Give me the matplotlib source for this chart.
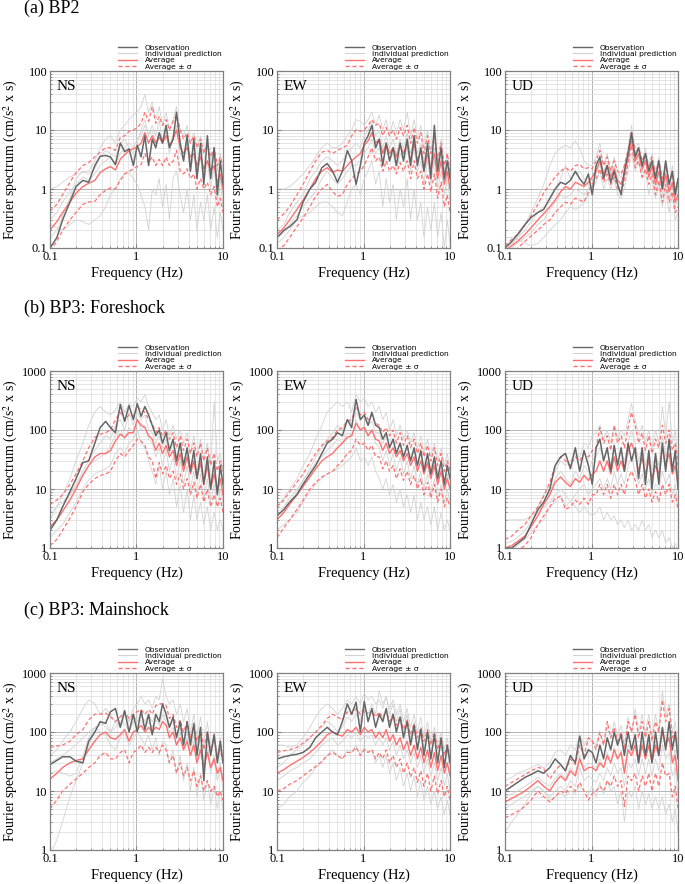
import matplotlib
matplotlib.use('Agg')
import matplotlib.pyplot as plt
from matplotlib.lines import Line2D
from matplotlib.ticker import NullFormatter, LogLocator

plt.rcParams['font.family'] = ['Liberation Serif', 'DejaVu Serif']
plt.rcParams['mathtext.fontset'] = 'stix'

# frequency samples (Hz), shared by every curve
freq = [0.10, 0.12, 0.14, 0.17, 0.20, 0.24, 0.28, 0.33, 0.38, 0.44, 0.50, 0.57, 0.65, 0.73,
        0.82, 0.92, 1.02, 1.13, 1.25, 1.38, 1.52, 1.67, 1.83, 2.0, 2.2, 2.4, 2.65, 2.9,
        3.2, 3.5, 3.85, 4.2, 4.6, 5.0, 5.5, 6.0, 6.6, 7.2, 7.9, 8.6, 9.3, 10.0]

# ---- (a) BP2 ----
bp2_ns_obs = [0.1, 0.15, 0.3, 0.6, 1.1, 1.4, 1.3, 2.5, 3.6, 3.7, 3.5, 2.6, 6, 4.3,
              4.8, 2.5, 5.5, 3.5, 8, 2.5, 7, 5, 9, 6, 12, 5, 7, 20,
              6, 3, 8, 2, 7, 1.5, 6, 1.2, 8, 1.5, 5, 0.8, 3, 1.2]
bp2_ns_avg = [0.2, 0.28, 0.4, 0.6, 0.85, 1.1, 1.25, 1.4, 1.9, 2.2, 2.4, 2.1, 3.2, 3.8,
              4.5, 4.8, 5.2, 6, 9, 6, 8, 6, 7.5, 6, 8, 5.5, 7, 10,
              5, 4, 5, 3.5, 4, 2.5, 3.5, 2.2, 3, 2, 2.5, 1.3, 1.8, 1.0]
bp2_ns_hi = [0.42, 0.55, 0.8, 1.3, 1.9, 2.5, 2.8, 3.5, 4.2, 5.0, 5.0, 4.5, 7.5, 8,
             9.5, 10, 11, 13, 20, 14, 25, 13, 17, 12, 15, 10, 14, 18,
             10, 7, 9, 6, 8, 5, 7, 4, 6, 3.5, 5, 2.5, 3.5, 2.5]
bp2_ns_lo = [0.09, 0.13, 0.2, 0.3, 0.4, 0.55, 0.6, 0.62, 0.8, 0.95, 1.05, 1.0, 1.4, 1.8,
             2.0, 2.2, 2.4, 2.6, 4, 2.8, 3.5, 2.5, 3.2, 2.5, 3.5, 2.5, 3, 4.5,
             2, 1.8, 2.2, 1.5, 1.8, 1.0, 1.5, 1.0, 1.3, 0.8, 1.1, 0.5, 0.7, 0.4]
bp2_ns_ind = [
    [1.0, 1.1, 1.3, 1.6, 1.8, 1.9, 2.0, 3, 5, 7, 8, 6, 10, 12,
     15, 18, 20, 25, 40, 20, 30, 15, 25, 12, 20, 10, 15, 25,
     10, 8, 12, 6, 9, 5, 8, 4, 7, 3, 5, 2, 4, 2],
    [0.25, 0.22, 0.2, 0.25, 0.3, 0.28, 0.25, 0.3, 0.35, 0.5, 0.8, 1.0, 1.5, 1.8,
     1.9, 1.5, 1.2, 0.8, 0.5, 0.2, 1.0, 0.8, 1.5, 0.5, 1.2, 0.3, 1.5, 2,
     0.8, 0.4, 1.0, 0.3, 0.8, 0.2, 0.6, 0.3, 0.8, 0.2, 0.5, 0.15, 0.4, 0.2],
    [0.3, 0.4, 0.6, 0.9, 1.2, 1.6, 1.4, 1.8, 2.5, 3, 3.5, 2.5, 4, 5,
     6, 5, 7, 8, 12, 8, 10, 6, 9, 7, 10, 5, 8, 12,
     4, 3, 6, 2, 4, 1.5, 3.5, 1.2, 3, 1, 2.5, 0.6, 1.5, 0.5],
    [0.15, 0.2, 0.35, 0.7, 1.5, 2.0, 1.8, 2.2, 3.5, 4.5, 4, 3.5, 6, 7,
     5, 4, 6, 10, 15, 8, 12, 8, 15, 6, 9, 4, 8, 10,
     5, 4, 7, 3, 5, 2, 4, 2, 3, 1.5, 2, 1, 1.5, 0.8],
]

bp2_ew_obs = [0.15, 0.2, 0.23, 0.3, 0.6, 1.0, 1.3, 2.3, 2.7, 2.0, 1.3, 2.0, 4.5, 3.0,
              1.2, 2.5, 6, 8, 12, 5, 7, 2.5, 6, 3, 5, 2.5, 6, 3,
              7, 2.5, 8, 2.5, 5, 2, 6, 1.5, 12, 2, 5, 1.5, 3, 1.5]
bp2_ew_avg = [0.17, 0.22, 0.3, 0.45, 0.65, 1.0, 1.5, 2.0, 2.3, 1.9, 2.1, 2.0, 2.5, 3.0,
              3.5, 4.0, 5.5, 6.5, 9, 6, 7, 4, 6, 4, 5, 3.5, 5.5, 4,
              6, 3, 6, 3, 4.5, 2, 4, 2, 4, 1.5, 3, 1.2, 2, 1.0]
bp2_ew_hi = [0.3, 0.38, 0.5, 0.8, 1.2, 2.0, 3.0, 4.2, 4.5, 4.0, 4.5, 5.0, 5.5, 8.0,
             10, 9.5, 10, 12, 15, 12, 13, 8, 11, 8, 10, 7, 11, 8,
             12, 6, 11, 6, 9, 4, 8, 4, 8, 3, 6, 2.5, 4, 2]
bp2_ew_lo = [0.09, 0.11, 0.15, 0.23, 0.32, 0.5, 0.75, 1.0, 1.2, 0.9, 0.75, 0.8, 1.2, 1.5,
             1.8, 2.0, 2.5, 3.5, 5, 3.0, 3.5, 2.0, 3.0, 2.0, 2.5, 1.8, 2.8, 2.0,
             3.0, 1.5, 3.0, 1.5, 2.0, 1.0, 1.8, 0.9, 1.8, 0.7, 1.3, 0.5, 0.8, 0.4]
bp2_ew_ind = [
    [1.0, 1.0, 1.1, 1.4, 1.8, 2.5, 3.5, 5, 6, 5, 5, 6, 8, 10,
     15, 14, 12, 15, 20, 12, 18, 10, 15, 8, 14, 9, 15, 10,
     20, 8, 15, 7, 12, 5, 10, 4, 9, 3, 7, 2, 4, 2],
    [0.12, 0.15, 0.2, 0.3, 0.35, 0.4, 0.5, 0.6, 0.6, 0.5, 0.4, 0.35, 0.6, 1.0,
     1.2, 0.8, 1.5, 2.0, 3, 1.2, 2, 0.5, 1.5, 0.6, 1.2, 0.3, 1.0, 0.5,
     1.5, 0.3, 1.0, 0.3, 0.6, 0.15, 0.5, 0.2, 0.6, 0.15, 0.4, 0.1, 0.3, 0.12],
    [0.2, 0.25, 0.4, 0.6, 0.8, 1.5, 2.0, 3.0, 3.5, 3.0, 2.5, 3.0, 4.0, 5.0,
     6.0, 5.0, 8.0, 10, 14, 8, 10, 5, 8, 5, 7, 4, 7, 5,
     9, 4, 8, 4, 6, 3, 5, 2.5, 5, 2, 4, 1.5, 2.5, 1.2],
    [0.15, 0.18, 0.25, 0.35, 0.5, 0.7, 0.9, 1.5, 2.0, 1.5, 1.2, 1.5, 2.0, 2.5,
     2.5, 3.0, 4.0, 5.0, 7, 4, 5, 3, 5, 3, 4, 2, 4, 3,
     5, 2, 5, 2, 3, 1.2, 3, 1.2, 3, 1, 2, 0.8, 1.5, 0.6],
]

bp2_ud_obs = [0.1, 0.13, 0.17, 0.25, 0.33, 0.4, 0.45, 0.7, 1.0, 1.3, 1.2, 1.4, 2.0, 1.5,
              1.2, 1.8, 0.8, 2.5, 3.5, 1.5, 2.5, 1.3, 2.0, 1.2, 0.8, 2.0, 4, 9,
              3.5, 5, 2.5, 4, 2, 3, 1.5, 3, 1.0, 3, 1.2, 2.0, 0.8, 1.5]
bp2_ud_avg = [0.09, 0.11, 0.13, 0.17, 0.22, 0.3, 0.38, 0.5, 0.65, 0.9, 1.1, 1.0, 1.3, 1.2,
              1.1, 1.3, 1.6, 2.0, 3.0, 1.8, 2.5, 1.6, 2.2, 1.4, 1.2, 1.8, 3.5, 7,
              3.0, 4.0, 2.2, 3.0, 1.6, 2.5, 1.2, 2.0, 1.0, 1.8, 0.9, 1.3, 0.6, 0.8]
bp2_ud_hi = [0.11, 0.14, 0.17, 0.24, 0.35, 0.55, 0.85, 1.2, 1.6, 2.0, 2.3, 2.0, 2.5, 2.6,
             2.2, 2.3, 2.2, 3.0, 4.5, 2.5, 3.5, 2.0, 3.0, 2.0, 1.8, 2.5, 4.5, 9.5,
             4.0, 5.0, 3.0, 4.0, 2.2, 3.5, 1.8, 3.0, 1.5, 2.5, 1.3, 1.8, 0.9, 1.2]
bp2_ud_lo = [0.07, 0.08, 0.1, 0.13, 0.16, 0.2, 0.25, 0.3, 0.4, 0.5, 0.6, 0.55, 0.7, 0.65,
             0.6, 0.9, 1.2, 1.5, 2.2, 1.3, 1.8, 1.2, 1.6, 1.0, 0.9, 1.3, 2.8, 5.5,
             2.3, 3.0, 1.6, 2.2, 1.2, 1.8, 0.8, 1.4, 0.6, 1.2, 0.6, 0.9, 0.4, 0.5]
bp2_ud_ind = [
    [0.1, 0.12, 0.15, 0.25, 0.4, 0.7, 1.2, 2.5, 4, 5, 5.5, 5, 6.5, 5,
     3, 2.5, 2.5, 3.5, 6, 2.5, 4, 2, 3.5, 2, 1.5, 2.5, 5, 12,
     5, 6, 3, 5, 2.5, 4, 2, 3.5, 1.5, 3, 1.2, 2.5, 1, 1.5],
    [0.15, 0.15, 0.14, 0.12, 0.11, 0.12, 0.15, 0.2, 0.25, 0.3, 0.4, 0.5, 0.45, 0.5,
     0.6, 0.8, 1.0, 1.3, 2, 1.0, 1.5, 1.0, 1.5, 0.8, 0.7, 1.0, 2, 4,
     2, 3, 1.5, 2, 0.8, 1.5, 0.7, 1.2, 0.5, 1.0, 0.4, 0.8, 0.3, 0.4],
    [0.1, 0.12, 0.15, 0.2, 0.28, 0.4, 0.5, 0.6, 1.0, 1.5, 2.5, 1.5, 1.8, 2.0,
     1.5, 1.2, 1.5, 2.5, 3.5, 2, 3, 1.8, 2.5, 1.5, 1.2, 2.0, 4, 7,
     3, 4, 2, 3.5, 1.8, 3, 1.5, 2.5, 1.2, 2.5, 1.0, 1.8, 0.7, 1.0],
    [0.09, 0.1, 0.12, 0.15, 0.18, 0.25, 0.3, 0.45, 0.6, 0.8, 0.7, 0.8, 1.0, 0.9,
     0.8, 1.0, 1.3, 1.8, 2.5, 1.5, 2.0, 1.3, 2.0, 1.2, 1.0, 1.5, 3, 6,
     2.5, 3.5, 2, 3, 1.5, 2.2, 1.0, 1.8, 0.8, 1.5, 0.7, 1.2, 0.5, 0.7],
]

# ---- (b) BP3: Foreshock ----
fs_ns_obs = [2, 3, 5, 9, 15, 28, 30, 60, 110, 140, 110, 90, 270, 140,
             260, 150, 280, 170, 250, 180, 120, 80, 100, 60, 90, 45, 70, 30,
             60, 25, 50, 20, 45, 15, 40, 12, 35, 10, 30, 8, 25, 12]
fs_ns_avg = [2.3, 3, 4.2, 6.5, 10, 17, 25, 35, 40, 40, 45, 65, 85, 75,
             90, 90, 150, 120, 110, 80, 70, 45, 60, 40, 55, 35, 45, 25,
             40, 20, 35, 18, 30, 15, 28, 12, 25, 10, 18, 9, 15, 8]
fs_ns_hi = [5.5, 6.5, 8, 12, 18, 30, 50, 75, 85, 90, 100, 150, 200, 150,
            180, 170, 250, 220, 200, 150, 130, 90, 110, 80, 100, 70, 90, 50,
            80, 45, 70, 40, 60, 35, 60, 30, 50, 25, 40, 20, 30, 20]
fs_ns_lo = [1.1, 1.4, 2.0, 3.2, 5, 9, 12, 15, 17, 18, 20, 30, 40, 35,
            45, 55, 70, 65, 55, 35, 30, 15, 28, 18, 25, 15, 20, 12,
            18, 10, 15, 8, 13, 7, 12, 6, 10, 5, 8, 5, 7, 4]
fs_ns_ind = [
    [3, 5, 8, 15, 30, 60, 120, 200, 250, 200, 180, 220, 300, 200,
     280, 250, 350, 300, 400, 250, 200, 150, 180, 100, 150, 80, 120, 70,
     100, 60, 90, 40, 80, 35, 70, 30, 60, 25, 300, 30, 40, 20],
    [1.5, 2, 2.5, 4, 6, 10, 14, 18, 20, 22, 25, 40, 50, 40,
     60, 70, 100, 60, 50, 30, 20, 12, 25, 10, 20, 8, 15, 5,
     12, 4, 10, 3, 8, 3, 6, 2.5, 5, 2, 4, 2, 3, 2],
    [2, 3, 5, 8, 12, 20, 30, 45, 60, 80, 70, 120, 150, 100,
     200, 120, 200, 150, 180, 100, 90, 60, 80, 50, 70, 40, 60, 30,
     50, 25, 45, 20, 40, 15, 35, 12, 30, 10, 25, 8, 20, 10],
    [4, 5, 6, 8, 11, 18, 25, 30, 35, 40, 55, 80, 100, 70,
     110, 90, 150, 100, 120, 70, 60, 35, 50, 25, 45, 20, 35, 15,
     30, 12, 25, 10, 20, 8, 18, 7, 15, 6, 12, 5, 10, 6],
]

fs_ew_obs = [3.5, 4.5, 6, 8, 12, 18, 25, 40, 60, 70, 90, 80, 150, 110,
             330, 150, 180, 120, 200, 120, 110, 70, 90, 50, 70, 40, 60, 35,
             55, 30, 50, 25, 45, 20, 40, 18, 35, 15, 30, 12, 25, 15]
fs_ew_avg = [3, 4, 5.5, 8, 11, 16, 22, 30, 35, 40, 50, 60, 75, 80,
             130, 100, 110, 80, 100, 70, 65, 45, 60, 40, 50, 35, 45, 30,
             40, 25, 35, 20, 30, 18, 28, 15, 25, 12, 20, 10, 15, 10]
fs_ew_hi = [5, 6.5, 9, 13, 18, 28, 40, 55, 65, 75, 100, 110, 140, 150,
            250, 180, 200, 150, 180, 130, 120, 90, 110, 80, 100, 60, 90, 55,
            80, 50, 70, 40, 60, 35, 55, 30, 50, 25, 40, 20, 30, 20]
fs_ew_lo = [1.5, 2.2, 3, 4.5, 6.5, 10, 13, 16, 18, 20, 25, 30, 40, 45,
            70, 55, 60, 45, 55, 35, 35, 22, 30, 20, 25, 15, 22, 14,
            20, 12, 17, 10, 15, 8, 13, 7, 12, 6, 10, 5, 7, 5]
fs_ew_ind = [
    [5, 7, 10, 15, 25, 40, 70, 120, 200, 250, 300, 250, 300, 200,
     400, 300, 350, 250, 300, 200, 250, 150, 200, 100, 150, 80, 120, 70,
     100, 60, 90, 50, 80, 40, 70, 35, 60, 30, 50, 25, 40, 20],
    [2, 2.5, 3, 4, 6, 9, 12, 15, 18, 20, 22, 25, 30, 35,
     50, 30, 35, 25, 35, 20, 15, 10, 15, 8, 12, 6, 10, 5,
     8, 4, 8, 3, 6, 3, 5, 2.5, 5, 2, 4, 2, 3, 2],
    [3, 4, 6, 9, 14, 22, 35, 50, 70, 90, 120, 100, 150, 130,
     200, 150, 160, 120, 140, 90, 90, 60, 80, 50, 70, 40, 60, 35,
     50, 30, 45, 25, 40, 20, 35, 15, 30, 12, 25, 10, 18, 10],
    [4, 5, 7, 10, 14, 20, 28, 35, 45, 55, 70, 60, 90, 80,
     150, 100, 120, 80, 100, 60, 50, 30, 45, 25, 40, 20, 35, 18,
     30, 15, 25, 12, 20, 10, 18, 8, 15, 7, 12, 6, 10, 6],
]

fs_ud_obs = [1.0, 1.0, 1.2, 1.5, 2.5, 4.5, 6, 10, 25, 35, 40, 22, 50, 20,
             45, 25, 12, 50, 70, 30, 50, 20, 55, 25, 50, 20, 60, 30,
             50, 15, 50, 12, 45, 10, 40, 12, 60, 20, 70, 20, 45, 10]
fs_ud_avg = [1.0, 1.1, 1.3, 1.6, 2.3, 3.5, 5.5, 8, 13, 16, 13, 11, 15, 13,
             17, 14, 18, 20, 30, 20, 30, 18, 35, 20, 30, 20, 45, 60,
             40, 20, 35, 18, 30, 15, 25, 18, 50, 25, 40, 18, 25, 12]
fs_ud_hi = [1.4, 1.6, 2.0, 2.5, 3.5, 5, 7.5, 13, 25, 35, 30, 25, 35, 30,
            40, 35, 45, 50, 110, 60, 80, 45, 120, 60, 80, 50, 110, 200,
            120, 60, 90, 45, 80, 40, 70, 50, 120, 60, 100, 45, 60, 25]
fs_ud_lo = [0.7, 0.8, 0.9, 1.1, 1.5, 2.5, 3.5, 5, 7, 7.5, 4.5, 5, 6.5, 5.5,
            7, 5.5, 8, 8, 12, 8, 12, 7, 12, 8, 12, 8, 15, 20,
            14, 8, 12, 7, 10, 6, 9, 6, 12, 8, 12, 6, 8, 4.5]
fs_ud_ind = [
    [3, 3, 3, 3, 3.5, 4, 5, 6, 8, 10, 8, 6, 5, 4,
     5, 4, 3.5, 4, 5, 3, 4, 3, 3.5, 2.5, 3, 2.2, 3, 2,
     2.5, 2, 3, 2, 2.5, 1.5, 2, 1.5, 2, 1.2, 1.5, 1.0, 1.2, 0.9],
    [1, 1, 1.1, 1.5, 2.5, 5, 8, 12, 20, 30, 25, 30, 40, 35,
     60, 50, 80, 90, 120, 70, 100, 60, 120, 70, 100, 80, 150, 280,
     150, 80, 120, 60, 100, 50, 100, 60, 250, 80, 300, 60, 100, 30],
    [1.2, 1.3, 1.5, 2, 2.8, 4, 6, 9, 15, 20, 15, 12, 20, 15,
     25, 20, 30, 35, 50, 30, 45, 25, 50, 30, 45, 30, 60, 100,
     60, 30, 50, 25, 45, 20, 40, 25, 80, 35, 60, 25, 40, 15],
    [0.9, 1.0, 1.2, 1.4, 1.8, 2.5, 3, 5, 6, 8, 5, 6, 8, 10,
     12, 8, 10, 12, 15, 10, 15, 10, 20, 12, 18, 12, 25, 35,
     20, 12, 18, 10, 15, 8, 12, 10, 20, 12, 18, 8, 12, 6],
]

# ---- (c) BP3: Mainshock ----
ms_ns_obs = [28, 33, 38, 38, 32, 30, 70, 100, 150, 140, 220, 250, 120, 230,
             100, 200, 100, 230, 110, 200, 90, 200, 150, 300, 200, 120, 180, 80,
             150, 60, 150, 60, 140, 40, 120, 15, 100, 40, 90, 30, 70, 30]
ms_ns_avg = [16, 20, 25, 30, 33, 35, 50, 70, 90, 100, 80, 75, 90, 110,
             70, 100, 110, 130, 100, 120, 100, 120, 110, 150, 130, 80, 100, 60,
             80, 50, 70, 40, 60, 30, 50, 25, 45, 25, 35, 20, 25, 15]
ms_ns_hi = [55, 58, 60, 70, 90, 110, 160, 200, 200, 210, 180, 150, 180, 220,
            170, 200, 220, 240, 200, 240, 200, 280, 300, 300, 280, 170, 200, 120,
            160, 100, 150, 80, 130, 70, 110, 50, 100, 50, 70, 40, 50, 30]
ms_ns_lo = [5, 7, 10, 13, 16, 20, 25, 30, 40, 45, 35, 35, 45, 50,
            30, 45, 50, 60, 45, 55, 45, 55, 45, 60, 50, 30, 40, 20,
            30, 18, 25, 15, 22, 12, 18, 10, 15, 10, 12, 8, 10, 7]
ms_ns_ind = [
    [0.8, 1.5, 3, 8, 15, 30, 60, 100, 150, 120, 100, 150, 120, 200,
     150, 250, 300, 400, 300, 350, 250, 400, 350, 800, 400, 300, 350, 200,
     300, 150, 250, 100, 200, 80, 180, 60, 150, 50, 100, 40, 80, 30],
    [40, 50, 70, 100, 150, 250, 350, 300, 200, 250, 200, 150, 180, 200,
     150, 200, 150, 200, 150, 200, 150, 200, 150, 200, 180, 120, 150, 80,
     120, 60, 100, 50, 90, 40, 80, 30, 60, 25, 40, 20, 30, 15],
    [20, 22, 20, 18, 20, 40, 80, 120, 100, 90, 60, 50, 80, 100,
     60, 80, 100, 80, 60, 90, 50, 80, 40, 70, 60, 30, 50, 20,
     40, 15, 30, 10, 25, 8, 20, 7, 15, 6, 12, 5, 10, 5],
    [30, 35, 40, 50, 60, 80, 100, 120, 130, 150, 100, 120, 150, 140,
     100, 150, 180, 150, 120, 150, 120, 160, 130, 200, 150, 100, 120, 60,
     100, 50, 80, 40, 70, 30, 60, 25, 50, 20, 35, 15, 25, 10],
]

ms_ew_obs = [35, 38, 40, 42, 45, 55, 80, 100, 120, 100, 90, 150, 300, 200,
             320, 100, 330, 150, 250, 120, 200, 150, 250, 120, 200, 100, 180, 80,
             150, 60, 130, 50, 110, 40, 100, 35, 90, 30, 80, 25, 60, 30]
ms_ew_avg = [20, 23, 27, 32, 37, 45, 55, 70, 90, 100, 90, 85, 110, 100,
             120, 90, 120, 100, 110, 80, 100, 80, 110, 70, 90, 60, 80, 50,
             70, 40, 60, 35, 55, 30, 50, 25, 45, 22, 40, 20, 30, 18]
ms_ew_hi = [45, 48, 50, 55, 65, 80, 100, 130, 170, 200, 180, 160, 220, 200,
            250, 200, 250, 200, 230, 180, 220, 170, 230, 150, 200, 130, 180, 110,
            160, 90, 140, 80, 120, 70, 110, 60, 100, 50, 80, 40, 60, 35]
ms_ew_lo = [10, 11, 13, 15, 18, 22, 26, 32, 40, 45, 40, 35, 45, 45,
            55, 40, 50, 45, 50, 35, 45, 35, 50, 30, 40, 25, 35, 20,
            30, 17, 25, 14, 22, 12, 20, 10, 18, 9, 15, 8, 12, 7]
ms_ew_ind = [
    [60, 60, 55, 60, 80, 120, 180, 250, 300, 250, 200, 250, 350, 300,
     400, 300, 450, 350, 400, 300, 350, 250, 400, 250, 350, 200, 300, 150,
     250, 120, 200, 100, 180, 80, 150, 70, 120, 60, 100, 50, 80, 40],
    [5, 6, 8, 10, 14, 18, 25, 30, 40, 50, 40, 35, 50, 45,
     60, 40, 55, 45, 50, 30, 40, 25, 40, 20, 30, 15, 25, 12,
     20, 10, 18, 8, 15, 7, 12, 6, 10, 5, 8, 4, 7, 4],
    [25, 30, 40, 50, 60, 80, 100, 120, 150, 130, 100, 120, 180, 150,
     200, 150, 250, 200, 300, 200, 500, 300, 400, 200, 300, 150, 250, 100,
     200, 80, 150, 60, 120, 50, 100, 40, 80, 35, 60, 30, 50, 20],
    [15, 18, 22, 25, 30, 35, 45, 60, 70, 80, 60, 70, 90, 80,
     100, 70, 90, 80, 90, 60, 80, 60, 80, 50, 70, 40, 60, 35,
     50, 30, 45, 25, 40, 20, 35, 18, 30, 15, 25, 12, 20, 10],
]

ms_ud_obs = [10, 12, 14, 17, 19, 22, 20, 25, 35, 28, 22, 40, 30, 85,
             35, 50, 45, 30, 60, 35, 80, 50, 100, 60, 90, 40, 100, 50,
             90, 30, 100, 40, 90, 30, 100, 40, 120, 50, 150, 50, 100, 35]
ms_ud_avg = [6.5, 7.5, 8.5, 10, 12, 15, 12, 10, 14, 18, 15, 22, 18, 35,
             22, 25, 25, 22, 30, 25, 40, 30, 50, 35, 45, 20, 50, 40,
             60, 30, 60, 35, 60, 30, 60, 40, 100, 60, 80, 30, 40, 15]
ms_ud_hi = [12, 14, 16, 19, 22, 25, 24, 16, 22, 28, 22, 35, 28, 60,
            40, 80, 70, 50, 100, 60, 150, 80, 120, 70, 100, 50, 150, 100,
            200, 80, 150, 80, 150, 70, 150, 100, 350, 150, 250, 80, 100, 40]
ms_ud_lo = [3.5, 4, 4.5, 5.5, 7, 10, 8, 6.5, 8, 10, 9, 12, 10, 14,
            10, 7, 9, 10, 12, 10, 15, 12, 18, 12, 15, 5.5, 18, 15,
            20, 10, 18, 12, 20, 10, 20, 12, 30, 18, 20, 8, 12, 5]
ms_ud_ind = [
    [2, 3, 4, 6, 9, 12, 10, 7, 8, 9, 8, 10, 9, 12,
     10, 9, 12, 8, 14, 9, 15, 10, 12, 6, 10, 3, 10, 8,
     12, 5, 10, 6, 9, 5, 8, 5, 8, 4, 6, 3, 5, 2],
    [15, 17, 20, 22, 25, 28, 25, 30, 45, 50, 40, 60, 50, 90,
     60, 80, 70, 60, 100, 60, 120, 80, 150, 90, 130, 60, 180, 100,
     250, 100, 200, 100, 200, 80, 200, 100, 500, 200, 300, 100, 150, 60],
    [8, 9, 10, 12, 14, 17, 14, 12, 16, 20, 16, 25, 20, 40,
     25, 30, 28, 25, 35, 25, 45, 30, 55, 35, 50, 25, 60, 45,
     70, 35, 70, 40, 70, 35, 70, 40, 120, 60, 90, 35, 50, 20],
    [5, 6, 7, 8, 10, 12, 10, 8, 10, 12, 10, 15, 12, 25,
     15, 18, 16, 14, 20, 15, 25, 18, 30, 20, 25, 12, 30, 25,
     35, 18, 35, 20, 35, 18, 35, 22, 60, 35, 45, 18, 25, 8],
]

row_titles = ['(a) BP2', '(b) BP3: Foreshock', '(c) BP3: Mainshock']
components = ['NS', 'EW', 'UD']
ylims = [(0.1, 100), (1, 1000), (1, 1000)]
yticks = [[0.1, 1, 10, 100], [1, 10, 100, 1000], [1, 10, 100, 1000]]

panels = [
    [(bp2_ns_obs, bp2_ns_avg, bp2_ns_hi, bp2_ns_lo, bp2_ns_ind),
     (bp2_ew_obs, bp2_ew_avg, bp2_ew_hi, bp2_ew_lo, bp2_ew_ind),
     (bp2_ud_obs, bp2_ud_avg, bp2_ud_hi, bp2_ud_lo, bp2_ud_ind)],
    [(fs_ns_obs, fs_ns_avg, fs_ns_hi, fs_ns_lo, fs_ns_ind),
     (fs_ew_obs, fs_ew_avg, fs_ew_hi, fs_ew_lo, fs_ew_ind),
     (fs_ud_obs, fs_ud_avg, fs_ud_hi, fs_ud_lo, fs_ud_ind)],
    [(ms_ns_obs, ms_ns_avg, ms_ns_hi, ms_ns_lo, ms_ns_ind),
     (ms_ew_obs, ms_ew_avg, ms_ew_hi, ms_ew_lo, ms_ew_ind),
     (ms_ud_obs, ms_ud_avg, ms_ud_hi, ms_ud_lo, ms_ud_ind)],
]

c_obs = '#666666'
c_ind = '#d2d2d2'
c_avg = '#ff7070'
dash = (0, (3, 2))

W, H = 685, 884
col_x = [50, 277, 505]
row_top = [71, 371, 673]
aw, ah = 173, 177

fig = plt.figure(figsize=(W / 100, H / 100), dpi=100)

handles = [Line2D([], [], color=c_obs, lw=1.0),
           Line2D([], [], color=c_ind, lw=0.8),
           Line2D([], [], color=c_avg, lw=1.0),
           Line2D([], [], color=c_avg, lw=1.0, ls=dash)]
labels = ['Observation', 'Individual prediction', 'Average', 'Average ± σ']

for r in range(3):
    fig.text(24 / W, 1 - (row_top[r] - 63) / H, row_titles[r], fontsize=13, va='center')
    for c in range(3):
        obs, avg, hi, lo, inds = panels[r][c]
        ax = fig.add_axes([col_x[c] / W, 1 - (row_top[r] + ah) / H, aw / W, ah / H])
        for y in inds:
            ax.plot(freq, y, color=c_ind, lw=0.6)
        ax.plot(freq, hi, color=c_avg, lw=0.9, ls=dash)
        ax.plot(freq, lo, color=c_avg, lw=0.9, ls=dash)
        ax.plot(freq, avg, color=c_avg, lw=1.0)
        ax.plot(freq, obs, color=c_obs, lw=1.1)

        ax.set_xscale('log')
        ax.set_yscale('log')
        ax.set_xlim(0.1, 10)
        ax.set_ylim(*ylims[r])
        ax.set_xticks([0.1, 1, 10])
        ax.set_xticklabels(['0.1', '1', '10'])
        ax.set_yticks(yticks[r])
        ax.set_yticklabels([str(v) for v in yticks[r]])
        ax.xaxis.set_minor_locator(LogLocator(base=10, subs=range(2, 10)))
        ax.yaxis.set_minor_locator(LogLocator(base=10, subs=range(2, 10)))
        ax.xaxis.set_minor_formatter(NullFormatter())
        ax.yaxis.set_minor_formatter(NullFormatter())
        ax.grid(which='major', color='#a8a8a8', lw=0.6)
        ax.grid(which='minor', color='#dadada', lw=0.5)
        ax.tick_params(which='both', direction='in', colors='#808080',
                       labelcolor='black', labelsize=9, pad=2)
        ax.tick_params(which='major', length=3)
        ax.tick_params(which='minor', length=1.5)
        for s in ax.spines.values():
            s.set_color('#808080')
            s.set_linewidth(0.9)

        ax.set_xlabel('Frequency (Hz)', fontsize=10.5, labelpad=3)
        ax.set_ylabel('Fourier spectrum (cm/s$^2$ x s)', fontsize=10)
        ax.yaxis.set_label_coords(-0.175, 0.5)
        ax.text(0.04, 0.95, components[c], transform=ax.transAxes,
                fontsize=11, va='top', ha='left')
        ax.legend(handles, labels, loc='lower right', bbox_to_anchor=(1.0, 1.0),
                  frameon=False, borderaxespad=0.2, borderpad=0.0,
                  handlelength=2.6, handletextpad=1.0, labelspacing=0.0,
                  prop={'family': 'DejaVu Sans', 'size': 5.4})

fig.savefig('out.png', dpi=100)
